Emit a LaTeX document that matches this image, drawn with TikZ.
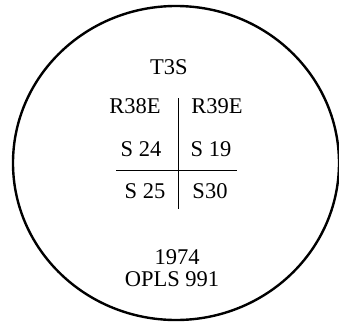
\documentclass[tikz,border=0pt]{standalone}
\usepackage{fontspec}
\setmainfont{Liberation Serif}

\begin{document}
\begin{tikzpicture}[x=1pt, y=-1pt, every node/.style={font=\fontsize{22.5}{24}\selectfont, inner sep=0pt}]
    \useasboundingbox (0,0) rectangle (339,321);
    \draw[line width=2.4pt] (176,163) ellipse [x radius=163, y radius=157];

    \node (t3s) at (169,67) {T3S};
    \node (r38e) at (135,106) {R38E};
    \node (r39e) at (217,106) {R39E};
    \node (s24) at (141,149) {S 24};
    \node (s19) at (211,149) {S 19};
    \node (s25) at (145,191.5) {S 25};
    \node (s30) at (210,191.5) {S30};
    \node (year) at (177,257.5) {1974};
    \node (opls) at (172,279.5) {OPLS 991};

    \coordinate (vtop) at (178.5,98);
    \coordinate (vbot) at (178.5,209);
    \coordinate (hleft) at (116,170);
    \coordinate (hright) at (237,170);
    \draw[line width=0.8pt] (vtop) -- (vbot);
    \draw[line width=0.8pt] (hleft) -- (hright);
\end{tikzpicture}
\end{document}
